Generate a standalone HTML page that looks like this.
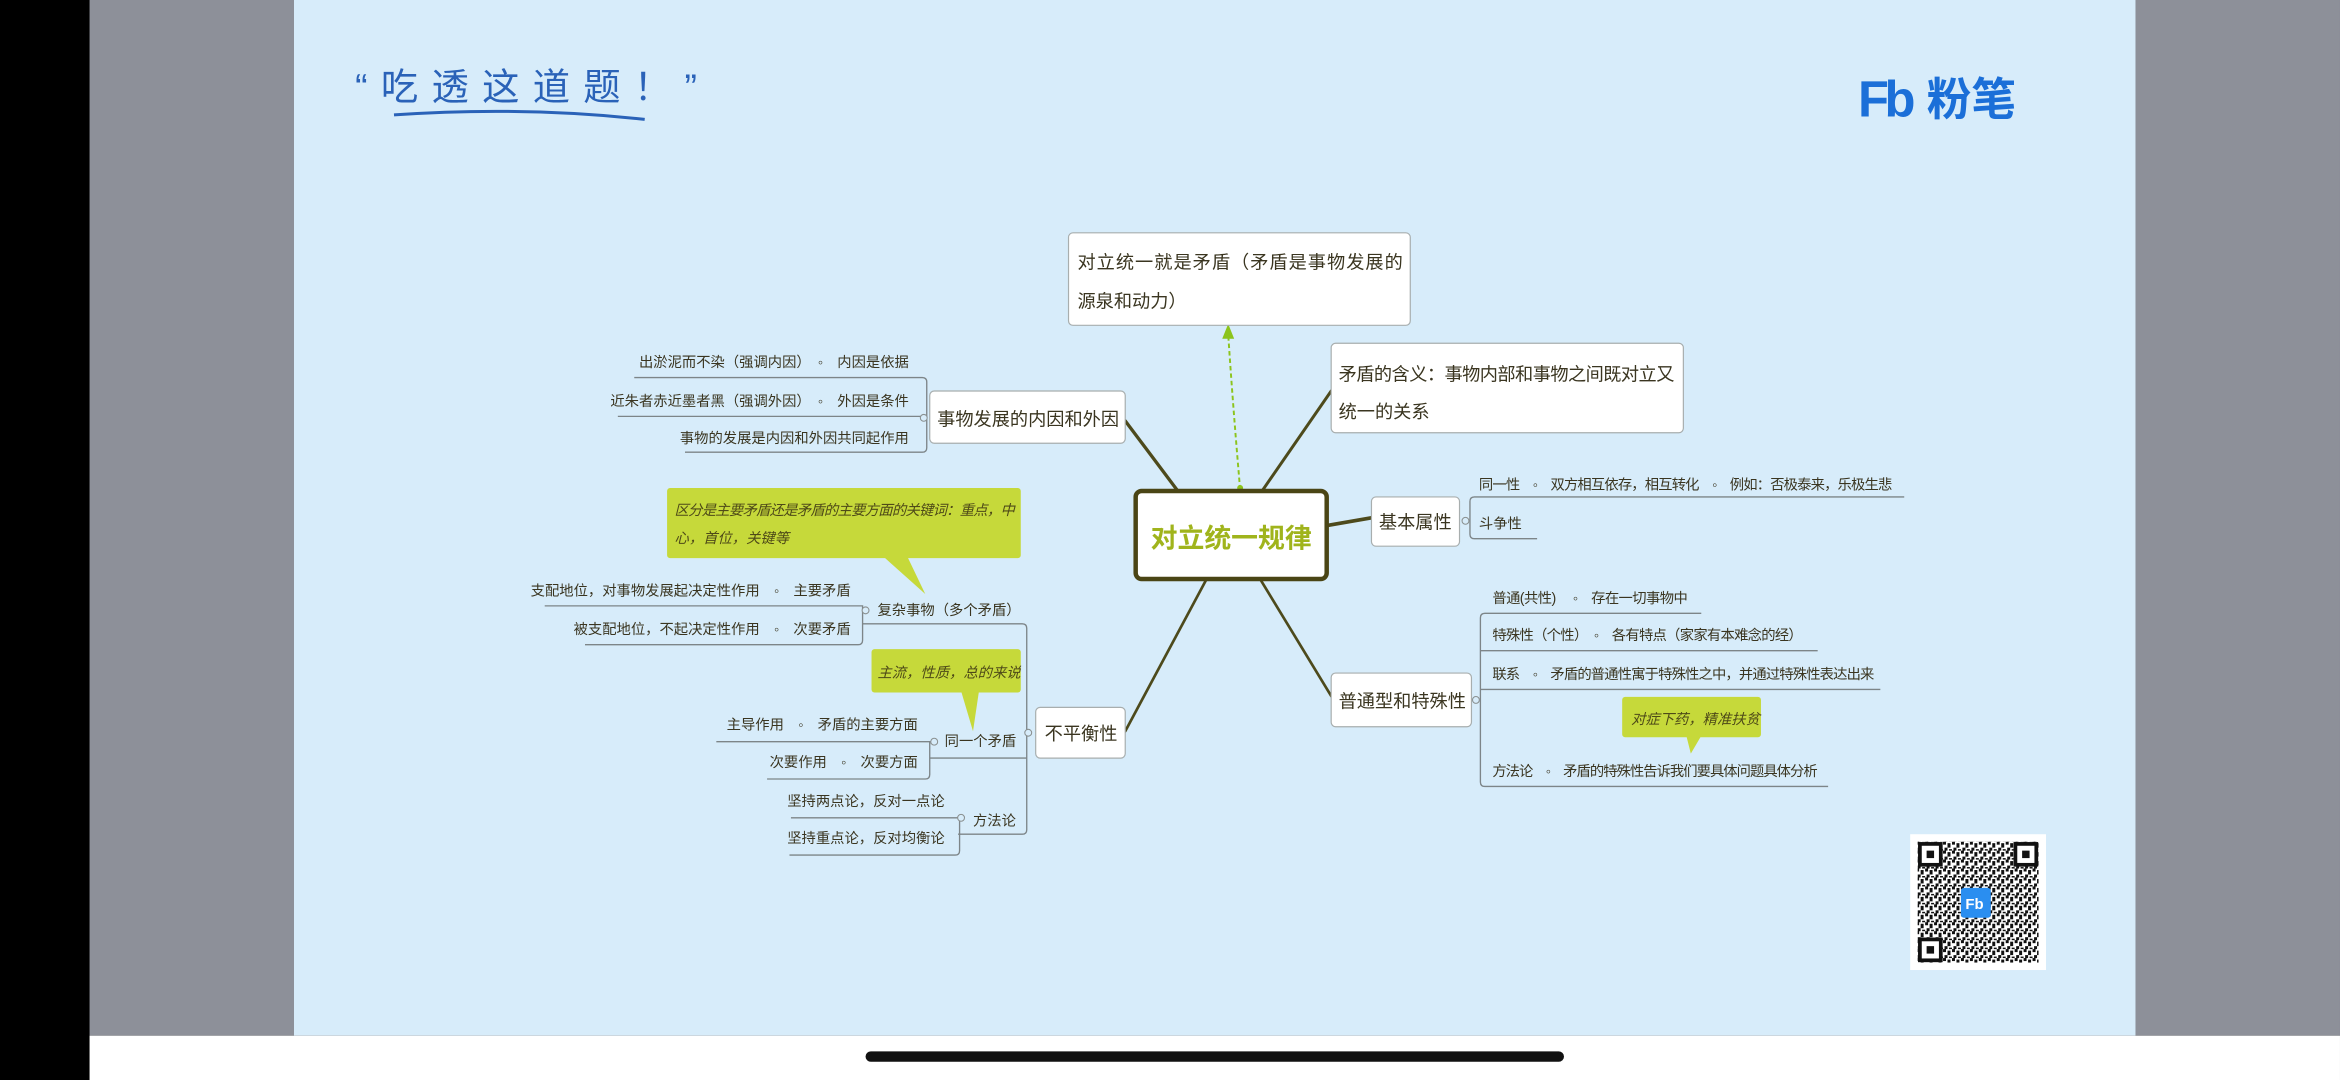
<!DOCTYPE html>
<html><head><meta charset="utf-8"><style>
html,body{margin:0;padding:0;background:#000;}
svg{display:block;}
text{font-family:"Liberation Sans","Noto Sans CJK SC",sans-serif;}
</style></head><body>
<svg width="2340" height="1080" viewBox="0 0 1568 723.7" xmlns="http://www.w3.org/2000/svg">
<defs>
<pattern id="qr" width="6" height="6" patternUnits="userSpaceOnUse">
<rect width="6" height="6" fill="#fff"/>
<rect x="0" y="0" width="2" height="2" fill="#111"/><rect x="3" y="1" width="2" height="3" fill="#111"/><rect x="1" y="4" width="2" height="2" fill="#111"/><rect x="4" y="5" width="2" height="1" fill="#111"/>
</pattern>
</defs>
<rect x="0" y="0" width="1568" height="723.7" fill="#000"/>
<rect x="60" y="0" width="137" height="694" fill="#8d9099"/>
<rect x="1431" y="0" width="137" height="694" fill="#8d9099"/>
<rect x="197" y="0" width="1234" height="694" fill="#d7ecfa"/>
<rect x="60" y="694" width="1508" height="30" fill="#fff"/>
<rect x="580" y="704.5" width="468" height="7" rx="3.5" fill="#111"/>

<!-- slogan -->
<text x="238" y="67" font-size="25" fill="#2a62b8" font-family="'Noto Serif CJK SC',serif" textLength="229">“吃透这道题！”</text>
<path d="M264 77 Q350 71 432 80" stroke="#2a62b8" stroke-width="2" fill="none"/>

<!-- logo -->
<text x="1245" y="78" font-size="34" font-weight="bold" fill="#1b6fd8" font-family="'Liberation Sans',sans-serif" letter-spacing="-3">Fb</text>
<text x="1291" y="77" font-size="30" font-weight="bold" fill="#1b6fd8" font-family="'Noto Sans CJK SC',sans-serif">粉笔</text>

<!-- QR -->
<rect x="1280" y="559" width="91" height="91" fill="#fff"/>
<rect x="1285" y="564" width="81" height="81" fill="url(#qr)"/>
<g fill="#fff" stroke="#111" stroke-width="2.5">
<rect x="1286.5" y="565.5" width="14" height="14"/><rect x="1350.5" y="565.5" width="14" height="14"/><rect x="1286.5" y="629.5" width="14" height="14"/></g>
<g fill="#111"><rect x="1291" y="570" width="5" height="5"/><rect x="1355" y="570" width="5" height="5"/><rect x="1291" y="634" width="5" height="5"/></g>
<rect x="1314" y="595" width="20" height="20" rx="2" fill="#2a8ef0"/>
<text x="1317" y="609" font-size="10" fill="#fff" font-weight="bold">Fb</text>

<!-- connectors from center -->
<g stroke="#4d4a1c" stroke-linecap="round" fill="none">
<path d="M790 330 L754 282" stroke-width="2.2"/>
<path d="M845 330 L892 262" stroke-width="2"/>
<path d="M890 352 L919 347" stroke-width="2.5"/>
<path d="M845 389 L893 468" stroke-width="1.8"/>
<path d="M808 389 L754 490" stroke-width="1.8"/>
</g>
<path d="M831 328 Q826 270 823 224" stroke="#8cc41c" stroke-width="1.3" stroke-dasharray="3,2" fill="none"/>
<path d="M823 217 L819 227 L827 227 Z" fill="#8cc41c"/>
<circle cx="831" cy="327" r="2" fill="#8cc41c"/>

<!-- nodes -->
<g fill="#fff" stroke="#a8aeae" stroke-width="0.8">
<rect x="716" y="156" width="229" height="62" rx="3"/>
<rect x="892" y="230" width="236" height="60" rx="3"/>
<rect x="919" y="333" width="59" height="33" rx="3"/>
<rect x="892" y="451" width="94" height="36" rx="3"/>
<rect x="694" y="474" width="60" height="34" rx="3"/>
<rect x="623" y="262" width="131" height="35" rx="3"/>
</g>
<rect x="761" y="329" width="128" height="59" rx="4" fill="#fff" stroke="#4a4515" stroke-width="3"/>
<text x="825" y="367" font-size="18" font-weight="bold" fill="#a0b41c" text-anchor="middle">对立统一规律</text>

<g fill="#3a3520" font-size="12.2">
<text x="722" y="180" textLength="218">对立统一就是矛盾（矛盾是事物发展的</text>
<text x="722" y="206">源泉和动力）</text>
<text x="897" y="255" textLength="225">矛盾的含义：事物内部和事物之间既对立又</text>
<text x="897" y="280">统一的关系</text>
<text x="924" y="354">基本属性</text>
<text x="897" y="474">普通型和特殊性</text>
<text x="700" y="496">不平衡性</text>
<text x="628" y="285">事物发展的内因和外因</text>
</g>

<g stroke="#7d8588" stroke-width="0.9" fill="none">
<path d="M1276 333 L988 333 Q985 333 985 336 L985 358 Q985 361 988 361 L1030 361"/>
<path d="M1140 411 L995 411 Q992 411 992 414 L992 524 Q992 527 995 527 L1225 527"/>
<path d="M992 436 L1218 436"/><path d="M992 462 L1260 462"/>
<path d="M425 253 L618 253 Q621 253 621 256 L621 300 Q621 303 618 303 L459 303"/>
<path d="M414 279 L621 279"/>
<path d="M578 418 L685 418 Q688 418 688 421 L688 556 Q688 559 685 559 L642 559"/>
<path d="M623 508 L688 508"/>
<path d="M365 406 L578 406 L578 429 Q578 432 575 432 L392 432"/>
<path d="M480 497 L623 497 L623 519 Q623 522 620 522 L514 522"/>
<path d="M530 548 L643 548 L643 570 Q643 573 640 573 L529 573"/>
</g>
<g fill="#d7ecfa" stroke="#8a9090" stroke-width="0.7">
<circle cx="982" cy="349" r="2.3"/><circle cx="989" cy="469" r="2.3"/><circle cx="619" cy="280" r="2.3"/>
<circle cx="689" cy="491" r="2.3"/><circle cx="580" cy="409" r="2.3"/><circle cx="626" cy="497" r="2.3"/><circle cx="644" cy="548" r="2.3"/>
</g>

<g fill="#c6d93a">
<rect x="447" y="327" width="237" height="47" rx="2"/>
<path d="M592 373 L620 398 L608 373 Z"/>
<rect x="584" y="435" width="100" height="29" rx="2"/>
<path d="M644 463 L652 490 L656 463 Z"/>
<rect x="1087" y="467" width="93" height="27" rx="2"/>
<path d="M1130 493 L1133 505 L1140 493 Z"/>
</g>
<g fill="#4e4a18" font-size="9.6" font-style="italic">
<text x="452" y="345" textLength="228">区分是主要矛盾还是矛盾的主要方面的关键词：重点，中</text>
<text x="452" y="364">心，首位，关键等</text>
<text x="588" y="454">主流，性质，总的来说</text>
<text x="1093" y="485">对症下药，精准扶贫</text>
</g>

<g fill="#3a3520" font-size="9.6">
<text x="991" y="328" textLength="277">同一性　◦　双方相互依存，相互转化　◦　例如：否极泰来，乐极生悲</text>
<text x="991" y="354">斗争性</text>
<text x="1000" y="404" textLength="131">普通(共性)　 ◦　存在一切事物中</text>
<text x="1000" y="429" textLength="208">特殊性（个性）　◦　各有特点（家家有本难念的经）</text>
<text x="1000" y="455" textLength="256">联系　◦　矛盾的普通性寓于特殊性之中，并通过特殊性表达出来</text>
<text x="1000" y="520" textLength="218">方法论　◦　矛盾的特殊性告诉我们要具体问题具体分析</text>
</g>
<g fill="#3a3520" font-size="9.6" text-anchor="end">
<text x="609" y="246">出淤泥而不染（强调内因）　◦　内因是依据</text>
<text x="609" y="272">近朱者赤近墨者黑（强调外因）　◦　外因是条件</text>
<text x="609" y="297">事物的发展是内因和外因共同起作用</text>
<text x="570" y="399">支配地位，对事物发展起决定性作用　◦　主要矛盾</text>
<text x="570" y="425">被支配地位，不起决定性作用　◦　次要矛盾</text>
<text x="615" y="489">主导作用　◦　矛盾的主要方面</text>
<text x="615" y="514">次要作用　◦　次要方面</text>
<text x="633" y="540">坚持两点论，反对一点论</text>
<text x="633" y="565">坚持重点论，反对均衡论</text>
</g>
<g fill="#3a3520" font-size="9.6">
<text x="588" y="412">复杂事物（多个矛盾）</text>
<text x="633" y="500">同一个矛盾</text>
<text x="652" y="553">方法论</text>
</g>
</svg>
</body></html>
